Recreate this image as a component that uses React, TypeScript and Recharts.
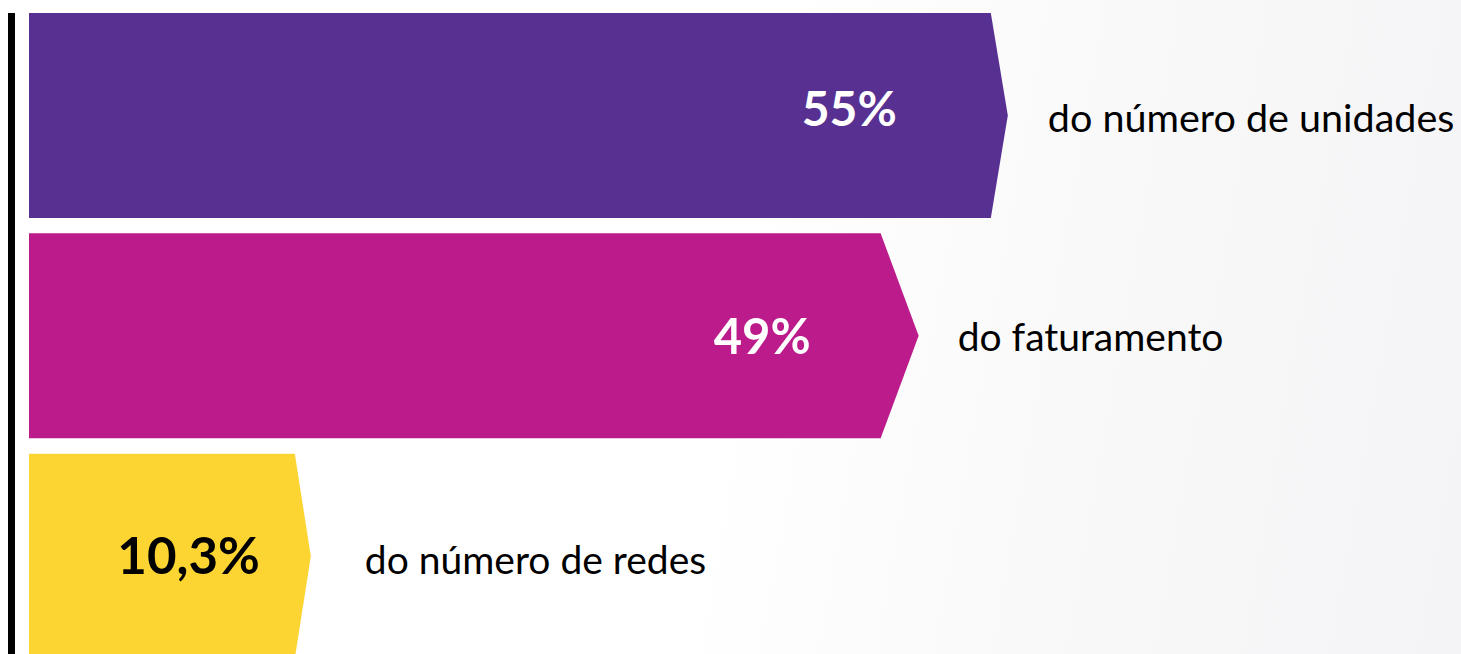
import { BarChart, Bar, XAxis, YAxis } from 'recharts'

// data
const categories = ['do número de unidades', 'do faturamento', 'do número de redes']
const shareLabels = ['55%', '49%', '10,3%']
const barLength = [55, 48.7, 15.2]

const data = categories.map((name, i) => ({ name, share: shareLabels[i], length: barLength[i] }))

// per-row look (colour, arrow depth, text placement)
const rowStyle = [
  { fill: '#583092', tip: 17, valueColor: '#fff', valueSize: 48, valueInset: 94, valueDy: 10.5, textGap: 57, textDy: 16.5, textSize: 39.5 },
  { fill: '#bc1b8b', tip: 38, valueColor: '#fff', valueSize: 49, valueInset: 70, valueDy: 18, textGap: 77, textDy: 15.5, textSize: 39 },
  { fill: '#fdd532', tip: 16, valueColor: '#000', valueSize: 51, valueInset: 35, valueDy: 17.5, textGap: 70, textDy: 17.5, textSize: 39 },
]

const FONT = 'Lato, "Open Sans", sans-serif'

function ArrowBar(props: any) {
  const { x, y, width, height, index, payload } = props
  const s = rowStyle[index]
  const cy = y + height / 2
  const end = x + width
  const pts = `${x},${y} ${end},${y} ${end + s.tip},${cy} ${end},${y + height} ${x},${y + height}`
  return (
    <g>
      <polygon points={pts} fill={s.fill} />
      <text
        x={end - s.valueInset}
        y={cy + s.valueDy}
        textAnchor="end"
        fill={s.valueColor}
        fontSize={s.valueSize}
        fontWeight={700}
        fontFamily={FONT}
      >
        {payload.share}
      </text>
      <text x={end + s.textGap} y={cy + s.textDy} fill="#000" fontSize={s.textSize} fontFamily={FONT}>
        {payload.name}
      </text>
    </g>
  )
}

export default function App() {
  return (
    <div
      style={{
        position: 'absolute',
        left: 0,
        top: 0,
        width: 1461,
        height: 654,
        overflow: 'hidden',
        background: 'linear-gradient(100deg, #ffffff 0%, #ffffff 50%, #f9f9fa 72%, #f4f4f6 100%)',
      }}
    >
      <div style={{ position: 'absolute', left: 8, top: 13, width: 7, height: 660, background: '#000' }} />
      <BarChart
        width={1461}
        height={666}
        data={data}
        layout="vertical"
        margin={{ top: 5, right: 33, left: 29, bottom: 0 }}
      >
        <XAxis type="number" domain={[0, 80]} hide />
        <YAxis type="category" dataKey="name" hide />
        <Bar dataKey="length" barSize={205} shape={ArrowBar} isAnimationActive={false} />
      </BarChart>
    </div>
  )
}
